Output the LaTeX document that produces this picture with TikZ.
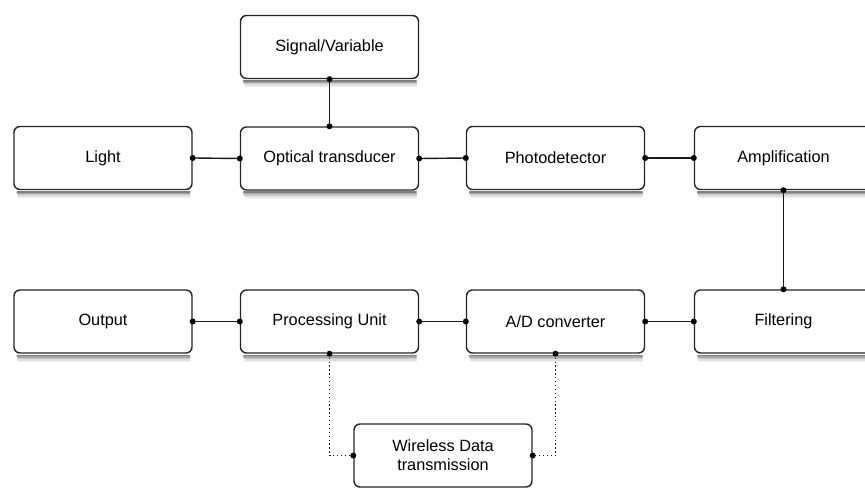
\documentclass[tikz,border=0pt]{standalone}
\usepackage{fontspec}
\setmainfont{Liberation Sans}
\begin{document}
\begin{tikzpicture}[x=1pt,y=-1pt,
  blk/.style={draw=black!85, line width=1.4pt, rounded corners=6pt, fill=white,
    minimum width=178pt, minimum height=63pt, align=center, inner sep=0pt,
    font=\fontsize{16.3}{19}\selectfont},
  conn/.style={draw=black!90, line width=1.4pt},
  dotconn/.style={draw=black!90, line width=1.4pt, dash pattern=on 1.3pt off 2.6pt},
  dotend/.style={fill=black},
  shdline/.style={line width=1.6pt, line cap=round}]
\useasboundingbox (0,0) rectangle (865,489);
\clip (0,0) rectangle (865,489);
\fill[white] (0,0) rectangle (865,489);

\node[blk] (sig) at (329.5,47) {Signal/Variable};
\node[blk] (light) at (103,158) {Light};
\node[blk] (opt) at (329.5,158.5) {Optical transducer};
\node[blk] (photo) at (555.5,158) {Photodetector};
\node[blk] (amp) at (783.5,158) {Amplification};
\node[blk] (out) at (103,321.5) {Output};
\node[blk] (proc) at (329.5,321.5) {Processing Unit};
\node[blk] (ad) at (555.5,321.5) {A/D converter};
\node[blk] (filt) at (783.5,321.5) {Filtering};
\node[blk] (wire) at (443,455.5) {Wireless Data\\transmission};

\foreach \n in {sig,light,opt,photo,amp,out,proc,ad,filt,wire}{
  \draw[shdline, black!6]  ([xshift=6pt,yshift=-7.5pt]\n.south west) -- ([xshift=-3pt,yshift=-7.5pt]\n.south east);
  \draw[shdline, black!12] ([xshift=5pt,yshift=-6pt]\n.south west) -- ([xshift=-3pt,yshift=-6pt]\n.south east);
  \draw[shdline, black!22] ([xshift=4.5pt,yshift=-4.5pt]\n.south west) -- ([xshift=-3pt,yshift=-4.5pt]\n.south east);
  \draw[shdline, black!35] ([xshift=4pt,yshift=-3pt]\n.south west) -- ([xshift=-3pt,yshift=-3pt]\n.south east);
  \draw[shdline, black!50] ([xshift=4pt,yshift=-1.6pt]\n.south west) -- ([xshift=-3pt,yshift=-1.6pt]\n.south east);
}

\draw[conn] (sig.south) -- (opt.north);
\draw[conn] (light.east) -- (opt.west);
\draw[conn] (opt.east) -- (photo.west);
\draw[conn] (photo.east) -- (amp.west);
\draw[conn] (amp.south) -- (filt.north);
\draw[conn] (out.east) -- (proc.west);
\draw[conn] (proc.east) -- (ad.west);
\draw[conn] (ad.east) -- (filt.west);
\draw[dotconn] (proc.south) |- (wire.west);
\draw[dotconn] (ad.south) |- (wire.east);

\foreach \p in {sig.south,opt.north,light.east,opt.west,opt.east,photo.west,photo.east,amp.west,amp.south,filt.north,out.east,proc.west,proc.east,ad.west,ad.east,filt.west,proc.south,wire.west,ad.south,wire.east}
  \fill[dotend] (\p) circle (3pt);
\end{tikzpicture}
\end{document}
